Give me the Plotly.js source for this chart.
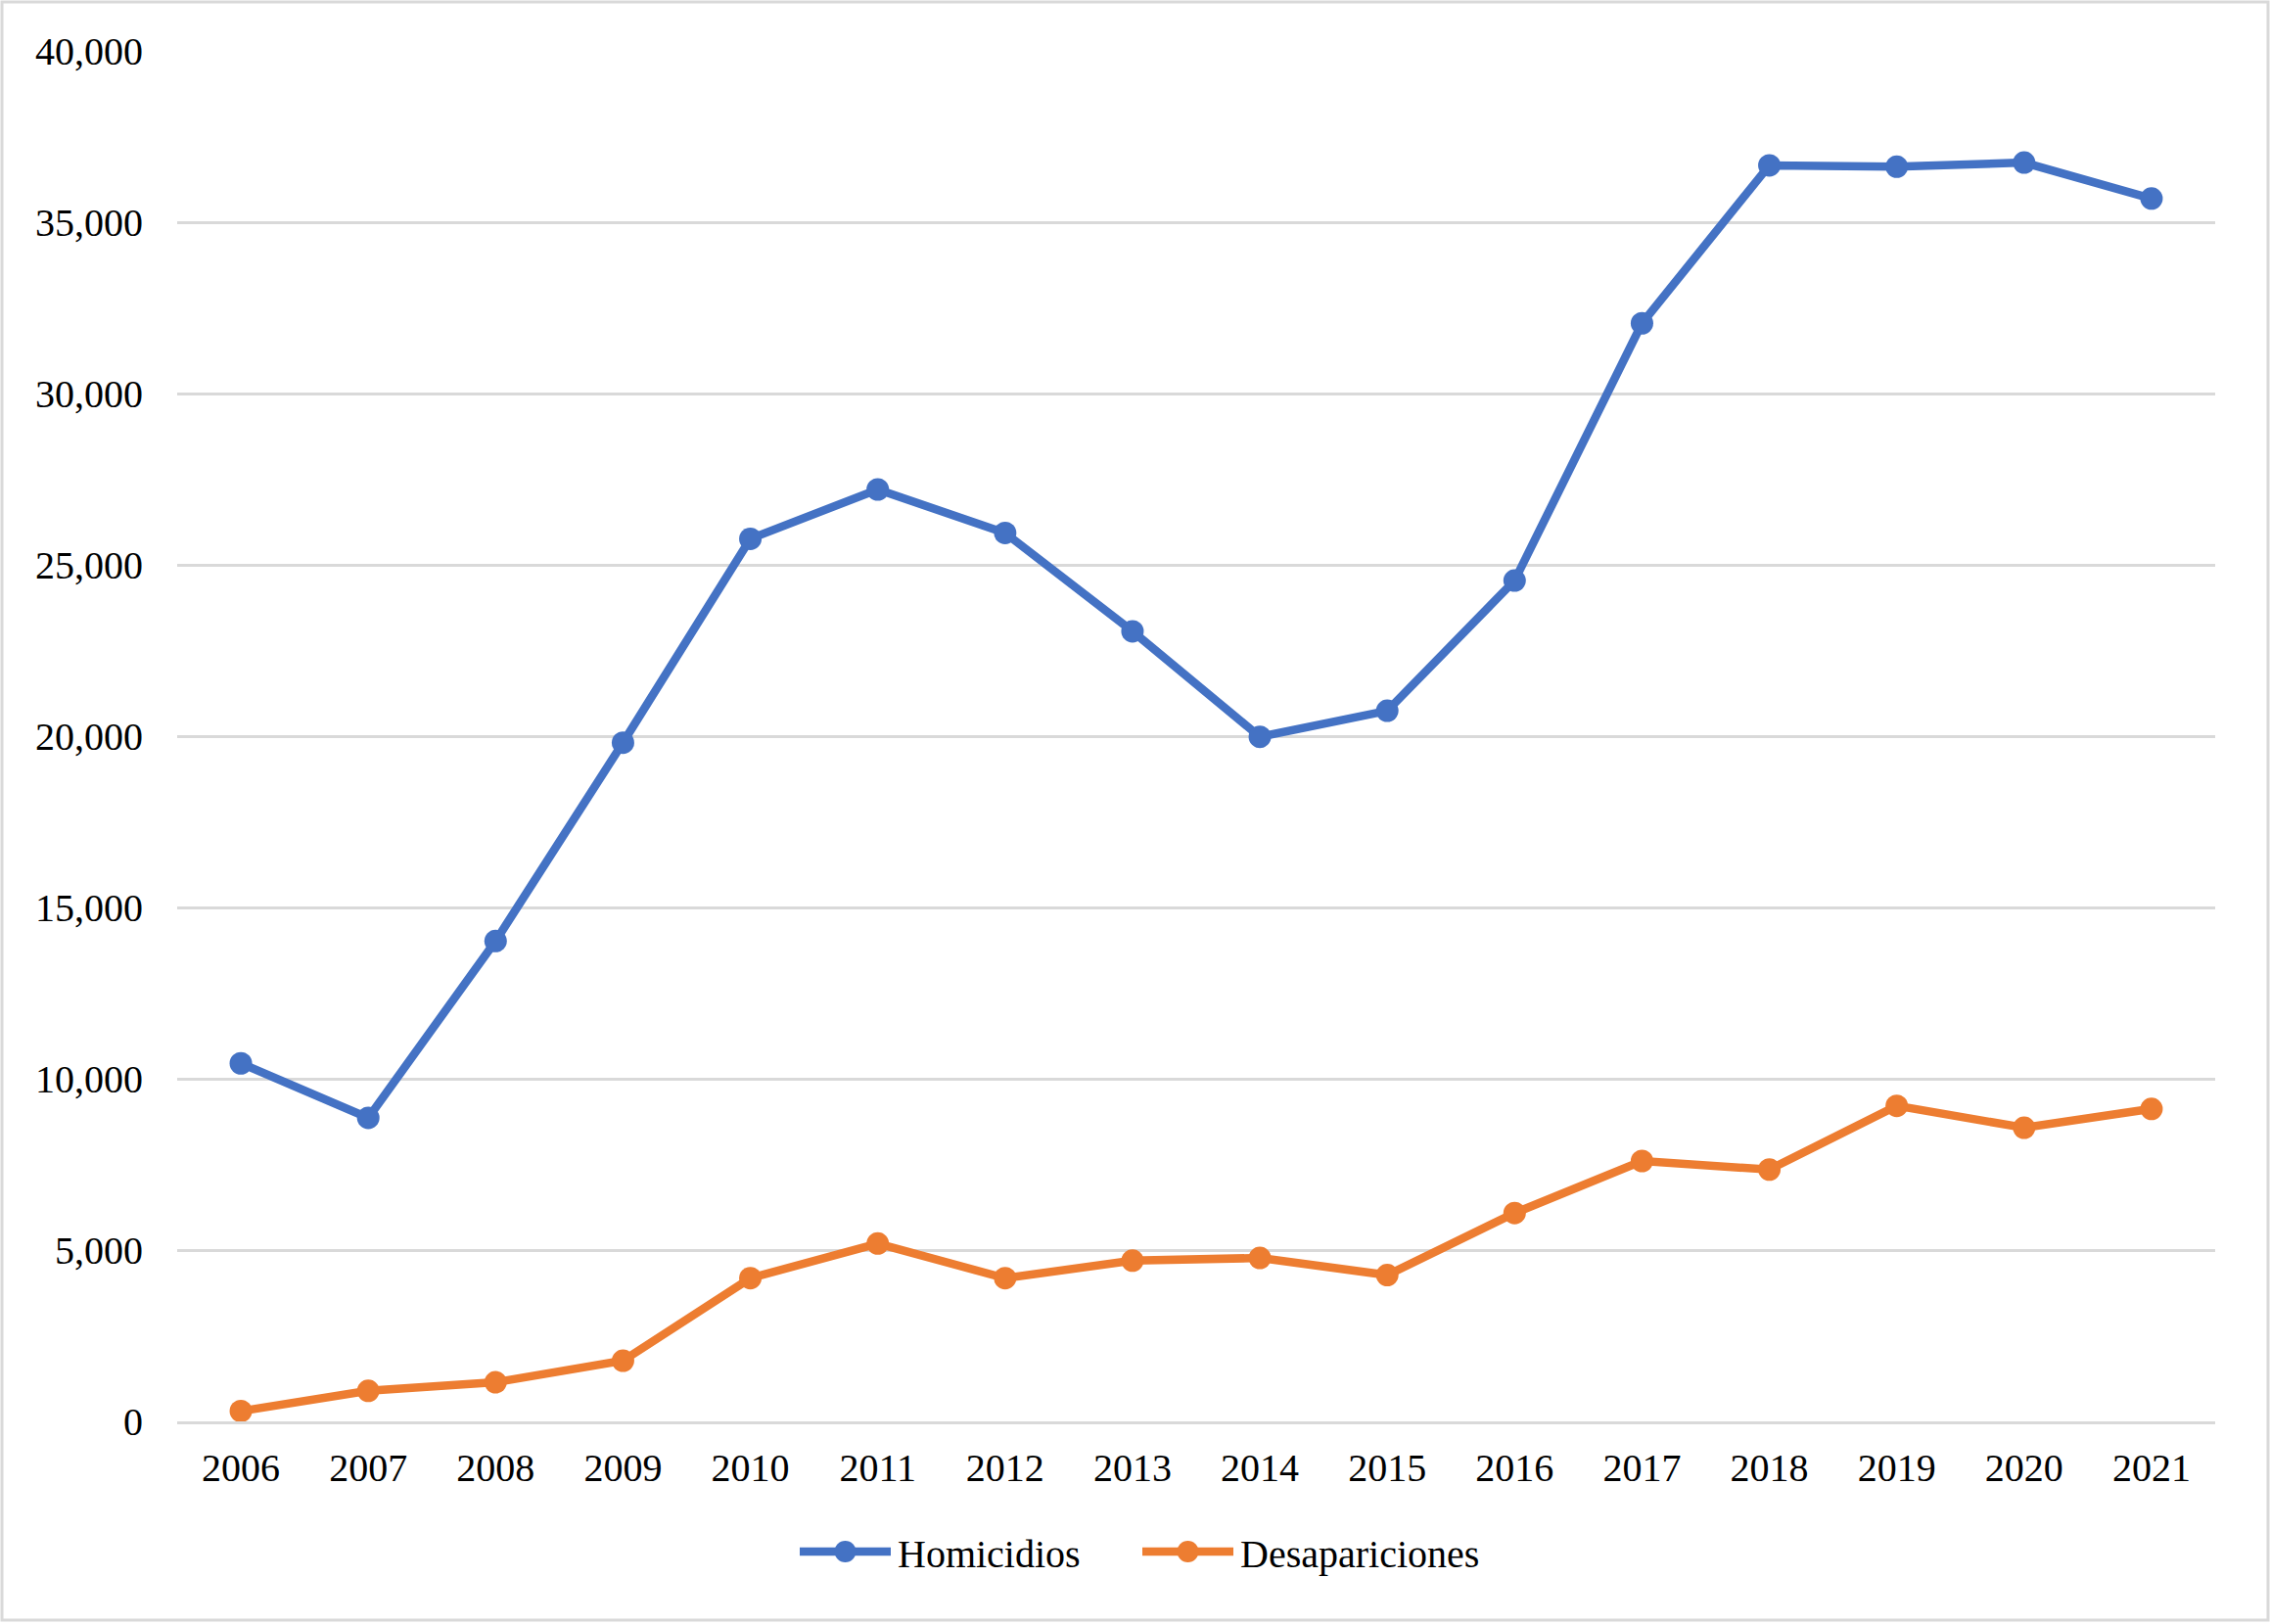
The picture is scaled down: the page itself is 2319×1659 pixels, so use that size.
<!DOCTYPE html>
<html>
<head>
<meta charset="utf-8">
<script src="https://cdn.plot.ly/plotly-3.0.1.min.js"></script>
<style>
  html, body { margin: 0; padding: 0; background: #ffffff; }
  #chart { width: 2319px; height: 1659px; }
</style>
</head>
<body>
<div id="chart"></div>
<script>
const years = ["2006","2007","2008","2009","2010","2011","2012","2013","2014","2015","2016","2017","2018","2019","2020","2021"];
const homicidios = [10450, 8860, 14020, 19810, 25760, 27200, 25930, 23060, 19980, 20740, 24540, 32050, 36660, 36620, 36740, 35690];
const desapariciones = [300, 890, 1140, 1770, 4180, 5190, 4180, 4690, 4770, 4270, 6080, 7600, 7350, 9210, 8570, 9120];
const yTicks = [0, 5000, 10000, 15000, 20000, 25000, 30000, 35000, 40000];
const yTickText = ["0", "5,000", "10,000", "15,000", "20,000", "25,000", "30,000", "35,000", "40,000"];

const W = 2319, H = 1659;
const M = { l: 181, r: 56, t: 52, b: 207 };
const pw = W - M.l - M.r, ph = H - M.t - M.b;
const px = v => (v - M.l) / pw;
const py = v => 1 - (v - M.t) / ph;

const font = "'Liberation Serif', 'Times New Roman', serif";

const traces = [
  {
    x: years, y: homicidios, name: "Homicidios", type: "scatter", mode: "lines+markers",
    line: { color: "#4472C4", width: 8.5 },
    marker: { color: "#4472C4", size: 23, symbol: "circle" }
  },
  {
    x: years, y: desapariciones, name: "Desapariciones", type: "scatter", mode: "lines+markers",
    line: { color: "#ED7D31", width: 8.5 },
    marker: { color: "#ED7D31", size: 23, symbol: "circle" }
  }
];

const layout = {
  width: W, height: H,
  margin: M,
  paper_bgcolor: "#ffffff",
  plot_bgcolor: "#ffffff",
  font: { family: font, size: 40, color: "#000000" },
  showlegend: true,
  legend: {
    orientation: "h", x: px(1162), xanchor: "center", y: py(1585), yanchor: "middle",
    font: { family: font, size: 40, color: "#000000" },
    itemwidth: 95, entrywidth: 240, tracegroupgap: 0, itemsizing: "trace"
  },
  xaxis: {
    type: "category",
    range: [-0.5, years.length - 0.5],
    showgrid: false, zeroline: false,
    showline: true, linecolor: "#D9D9D9", linewidth: 3,
    ticks: "", ticklabelstandoff: 10,
    tickfont: { family: font, size: 40, color: "#000000" },
    fixedrange: true
  },
  yaxis: {
    range: [0, 40000],
    tickvals: yTicks, ticktext: yTickText,
    showgrid: true, gridcolor: "#D9D9D9", gridwidth: 3,
    zeroline: false, showline: false,
    ticks: "", ticklabelstandoff: 34,
    tickfont: { family: font, size: 40, color: "#000000" },
    fixedrange: true
  },
  shapes: [
    {
      type: "rect", xref: "paper", yref: "paper",
      x0: px(2), x1: px(2317), y0: py(2), y1: py(1655),
      line: { color: "#D9D9D9", width: 3 }, fillcolor: "rgba(0,0,0,0)", layer: "below"
    }
  ]
};

Plotly.newPlot("chart", traces, layout, { displayModeBar: false, staticPlot: true }).then(function (gd) {
  // lengthen legend line samples and enlarge legend markers to match the reference
  gd.querySelectorAll(".legend .legendlines path").forEach(function (p) {
    p.setAttribute("d", "M5,0h93");
  });
  gd.querySelectorAll(".legend .legendpoints path.scatterpts").forEach(function (p) {
    p.setAttribute("transform", "translate(51.5,0)");
    p.setAttribute("d", "M11,0A11,11 0 1,1 0,-11A11,11 0 0,1 11,0Z");
  });
});
</script>
</body>
</html>
